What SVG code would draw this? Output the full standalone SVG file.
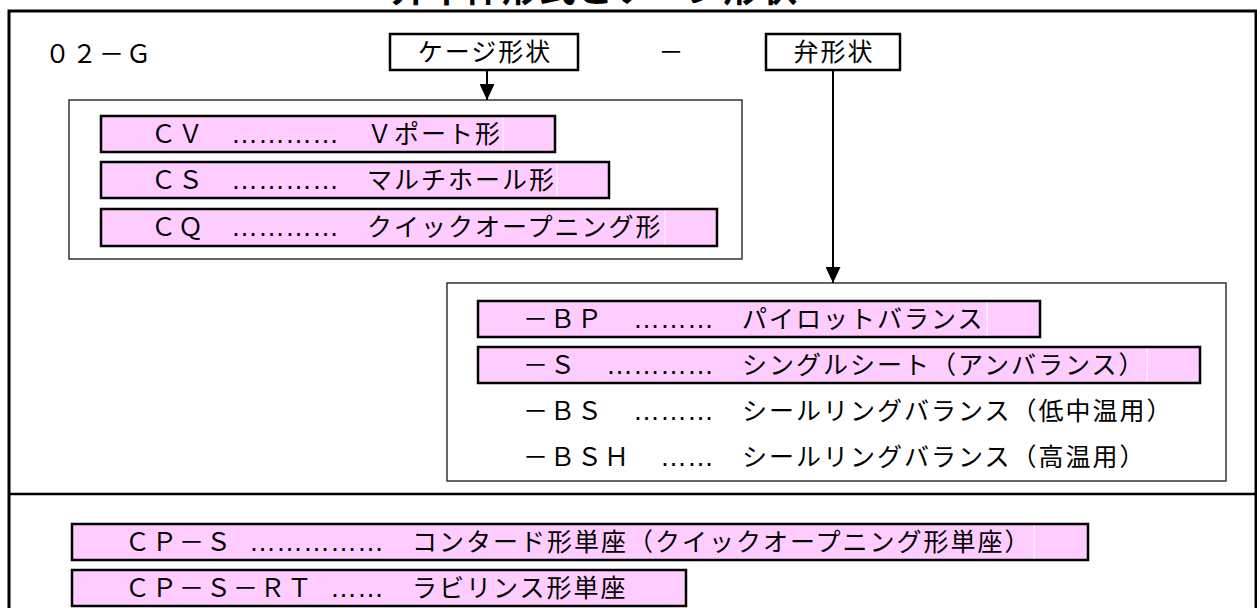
<svg xmlns="http://www.w3.org/2000/svg" width="1257" height="608" viewBox="0 0 1257 608">
<style>
.t{font-family:"Noto Sans CJK JP","Noto Sans CJK SC",sans-serif;font-size:25px;letter-spacing:2px;fill:#000}
.d{font-family:"Liberation Sans",Arial,sans-serif;font-size:27px;fill:#000}
.pk{fill:#FFCCFF;stroke:#000;stroke-width:2.5}
.hb{fill:#fff;stroke:#000;stroke-width:2.5}
.grp{fill:none;stroke:#333;stroke-width:1.5}
.wl{stroke:#fff;stroke-width:1}
.ttl{font-family:"Noto Sans CJK JP",sans-serif;font-size:37px;font-weight:bold;fill:#000}
</style>
<defs>
<marker id="ah" viewBox="0 0 16 15" refX="16" refY="7.5" markerWidth="16" markerHeight="15" markerUnits="userSpaceOnUse" orient="auto">
<path d="M0,0 L16,7.5 L0,15 Z" fill="#000"/>
</marker>
</defs>
<rect width="1257" height="608" fill="#fff"/>
<text class="ttl" x="391" y="2">弁本体形式とケージ形状</text>
<g id="frame">
<rect x="9" y="11" width="1247" height="700" fill="none" stroke="#000" stroke-width="3"/>
<line x1="9" y1="494" x2="1256" y2="494" stroke="#000" stroke-width="2.5"/>
</g>
<g id="model">
<text class="t" x="45" y="63">０２－Ｇ</text>
<text class="t" x="672" y="61" text-anchor="middle">－</text>
</g>
<g id="cage-header">
<rect class="hb" x="390" y="34" width="188" height="36"/>
<text class="t" x="485" y="61" text-anchor="middle">ケージ形状</text>
</g>
<g id="valve-header">
<rect class="hb" x="766" y="34" width="134" height="36"/>
<text class="t" x="834" y="61" text-anchor="middle">弁形状</text>
</g>
<g id="cage-group">
<rect class="grp" x="69" y="100" width="673" height="159"/>
</g>
<g id="row-cv">
<rect class="pk" x="101" y="116" width="454" height="36"/>
<line class="wl" x1="503" y1="117.5" x2="503" y2="150.5"/>
<text class="t" x="151" y="143">ＣＶ</text>
<text class="d" x="231" y="143">…………</text>
<text class="t" x="367" y="143">Ｖポート形</text>
</g>
<g id="row-cs">
<rect class="pk" x="101" y="162" width="508" height="36"/>
<line class="wl" x1="557" y1="163.5" x2="557" y2="196.5"/>
<text class="t" x="151" y="189">ＣＳ</text>
<text class="d" x="231" y="189">…………</text>
<text class="t" x="367" y="189">マルチホール形</text>
</g>
<g id="row-cq">
<rect class="pk" x="101" y="209" width="616" height="37"/>
<line class="wl" x1="665" y1="210.5" x2="665" y2="244.5"/>
<text class="t" x="151" y="236">ＣＱ</text>
<text class="d" x="231" y="236">…………</text>
<text class="t" x="367" y="236">クイックオープニング形</text>
</g>
<g id="valve-group">
<rect class="grp" x="447" y="283" width="779" height="198"/>
</g>
<g id="row-bp">
<rect class="pk" x="478" y="301" width="562" height="36"/>
<line class="wl" x1="987" y1="302.5" x2="987" y2="335.5"/>
<text class="t" x="523" y="328">－ＢＰ</text>
<text class="d" x="633" y="328">………</text>
<text class="t" x="742" y="328">パイロットバランス</text>
</g>
<g id="row-s">
<rect class="pk" x="478" y="347" width="722" height="36"/>
<line class="wl" x1="1147" y1="348.5" x2="1147" y2="381.5"/>
<text class="t" x="523" y="374">－Ｓ</text>
<text class="d" x="606" y="374">…………</text>
<text class="t" x="742" y="374">シングルシート（アンバランス）</text>
</g>
<g id="row-bs">
<text class="t" x="523" y="420">－ＢＳ</text>
<text class="d" x="633" y="420">………</text>
<text class="t" x="742" y="420">シールリングバランス（低中温用）</text>
</g>
<g id="row-bsh">
<text class="t" x="523" y="466">－ＢＳＨ</text>
<text class="d" x="660" y="466">……</text>
<text class="t" x="742" y="466">シールリングバランス（高温用）</text>
</g>
<g id="row-cps">
<rect class="pk" x="72" y="524" width="1016" height="36"/>
<line class="wl" x1="1034" y1="525.5" x2="1034" y2="558.5"/>
<text class="t" x="125" y="551">ＣＰ－Ｓ</text>
<text class="d" x="249" y="551">……………</text>
<text class="t" x="412" y="551">コンタード形単座（クイックオープニング形単座）</text>
</g>
<g id="row-cpsrt">
<rect class="pk" x="72" y="570" width="614" height="36"/>
<text class="t" x="125" y="597">ＣＰ－Ｓ－ＲＴ</text>
<text class="d" x="330" y="597">……</text>
<text class="t" x="412" y="597">ラビリンス形単座</text>
</g>
<g id="connectors">
<line x1="487" y1="70" x2="487" y2="100" stroke="#000" stroke-width="2" marker-end="url(#ah)"/>
<line x1="833" y1="70" x2="833" y2="283" stroke="#000" stroke-width="2" marker-end="url(#ah)"/>
</g>
</svg>
